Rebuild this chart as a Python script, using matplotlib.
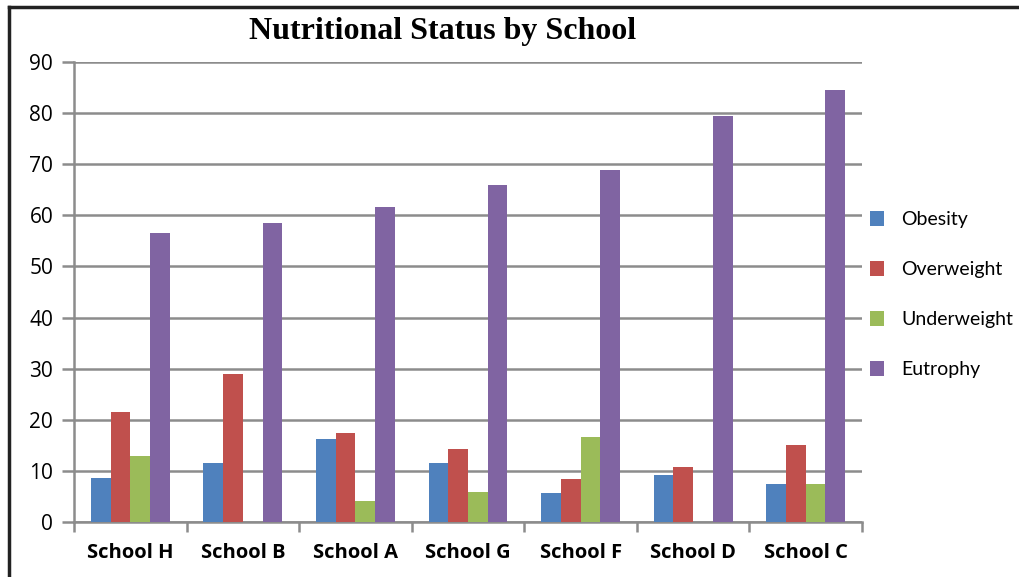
import numpy as np
import matplotlib.pyplot as plt
from matplotlib.lines import Line2D

# data
schools = ["School H", "School B", "School A", "School G", "School F", "School D", "School C"]
obesity = [8.6, 11.6, 16.2, 11.6, 5.6, 9.1, 7.5]
overweight = [21.6, 29.0, 17.5, 14.3, 8.4, 10.8, 15.0]
underweight = [12.9, 0, 4.2, 5.9, 16.7, 0, 7.5]
eutrophy = [56.5, 58.5, 61.6, 66.0, 68.9, 79.5, 84.6]

series = [("Obesity", obesity, "#4F81BD"),
          ("Overweight", overweight, "#C0504D"),
          ("Underweight", underweight, "#9BBB59"),
          ("Eutrophy", eutrophy, "#8064A2")]

W, H = 1019, 577
fig = plt.figure(figsize=(W / 100, H / 100), dpi=100)
ax = fig.add_axes([74 / W, 1 - 522 / H, (862 - 74) / W, (522 - 62) / H])

x = np.arange(len(schools))
bw = 0.175
for i, (name, vals, col) in enumerate(series):
    ax.bar(x + (i - 1.5) * bw, vals, width=bw, color=col, label=name, zorder=3)

ax.set_xlim(-0.5, len(schools) - 0.5)
ax.set_ylim(0, 90)
ax.set_yticks(range(0, 91, 10))
ax.yaxis.grid(True, color="#8c8c8c", linewidth=1.8, zorder=0)
ax.set_axisbelow(True)

for s in ["top", "right"]:
    ax.spines[s].set_visible(False)
ax.spines["left"].set_color("#8c8c8c")
ax.spines["bottom"].set_color("#8c8c8c")
ax.spines["left"].set_linewidth(1.8)
ax.spines["bottom"].set_linewidth(1.8)

ax.tick_params(axis="y", length=9, width=1.8, color="#8c8c8c", labelsize=15, pad=6)
ax.set_yticklabels([str(v) for v in range(0, 91, 10)], fontfamily="Open Sans")

# category labels centred, ticks at the category boundaries
ax.set_xticks(np.arange(-0.5, len(schools), 1))
ax.set_xticklabels([])
ax.tick_params(axis="x", length=7, width=1.8, color="#8c8c8c")
for xi, s in zip(x, schools):
    ax.text(xi, -0.046, s, transform=ax.get_xaxis_transform(), ha="center", va="top",
            fontsize=14.5, fontweight="bold", fontfamily="Open Sans")

fig.text(443 / W, 1 - 31 / H, "Nutritional Status by School", ha="center", va="center",
         fontsize=23, fontweight="bold", fontfamily="Liberation Serif")

leg = ax.legend(loc="center left", bbox_to_anchor=(1.0, 0.494), frameon=False,
                borderaxespad=0.0, prop={"family": "Lato", "size": 14}, handlelength=0.75,
                handleheight=0.75, labelspacing=1.7, handletextpad=0.85)

# border on top and left like the screenshot
fig.add_artist(Line2D([8.5 / W, 8.5 / W], [0, 1 - 7 / H], color="#222222", linewidth=2.5))
fig.add_artist(Line2D([8.5 / W, 1], [1 - 7 / H, 1 - 7 / H], color="#222222", linewidth=2.5))

plt.savefig("out.png", dpi=100)
